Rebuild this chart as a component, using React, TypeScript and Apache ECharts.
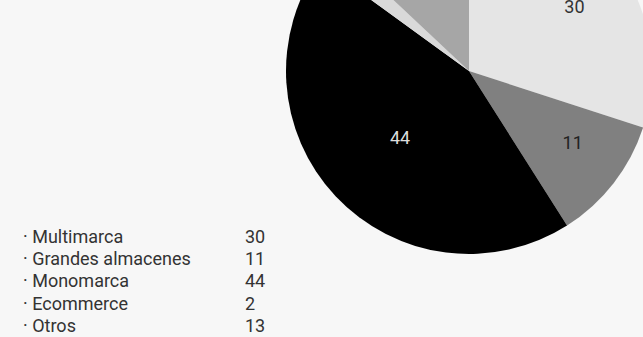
import React, { useEffect, useRef } from "react";
import * as echarts from "echarts";

const categories = ["Multimarca", "Grandes almacenes", "Monomarca", "Ecommerce", "Otros"];
const values = [30, 11, 44, 2, 13];
const sliceColors = ["#e5e5e5", "#808080", "#000000", "#d9d9d9", "#a6a6a6"];
const labelColors = ["#333333", "#222222", "#dddddd", "#333333", "#333333"];
const showLabel = [true, true, true, false, false];
const labelShift = [
  [29, -9],
  [29, 14],
  [0, 2],
  [0, 0],
  [0, 0],
];

export default function App() {
  const ref = useRef<HTMLDivElement>(null);
  useEffect(() => {
    if (!ref.current) return;
    const chart = echarts.init(ref.current, null, { renderer: "svg" });
    const font = "Roboto, 'Noto Sans', sans-serif";
    chart.setOption({
      animation: false,
      backgroundColor: "#f7f7f7",
      legend: {
        orient: "vertical",
        left: 18,
        top: 227,
        padding: 0,
        icon: "none",
        itemWidth: 0,
        itemHeight: 10,
        itemGap: 4.4,
        selectedMode: false,
        data: categories,
        formatter: (name: string) => {
          const i = categories.indexOf(name);
          return `{n|· ${name}}{v|${values[i]}}`;
        },
        textStyle: {
          fontFamily: font,
          fontSize: 18,
          color: "#333",
          rich: {
            n: { width: 222, fontSize: 18, color: "#333", fontFamily: font },
            v: { fontSize: 18, color: "#333", fontFamily: font },
          },
        },
      },
      series: [
        {
          type: "pie",
          center: [469, 71],
          radius: [0, 183],
          startAngle: 90,
          clockwise: true,
          avoidLabelOverlap: false,
          labelLine: { show: false },
          label: {
            position: "inside",
            fontFamily: font,
            fontSize: 18,
            formatter: "{c}",
          },
          labelLayout: (p: any) => ({
            dx: labelShift[p.dataIndex][0],
            dy: labelShift[p.dataIndex][1],
          }),
          emphasis: { disabled: true },
          data: categories.map((name, i) => ({
            name,
            value: values[i],
            itemStyle: { color: sliceColors[i] },
            label: { show: showLabel[i], color: labelColors[i] },
          })),
        },
      ],
    });
    return () => chart.dispose();
  }, []);
  return (
    <div
      ref={ref}
      style={{ position: "fixed", left: 0, top: 0, width: 643, height: 337 }}
    />
  );
}
